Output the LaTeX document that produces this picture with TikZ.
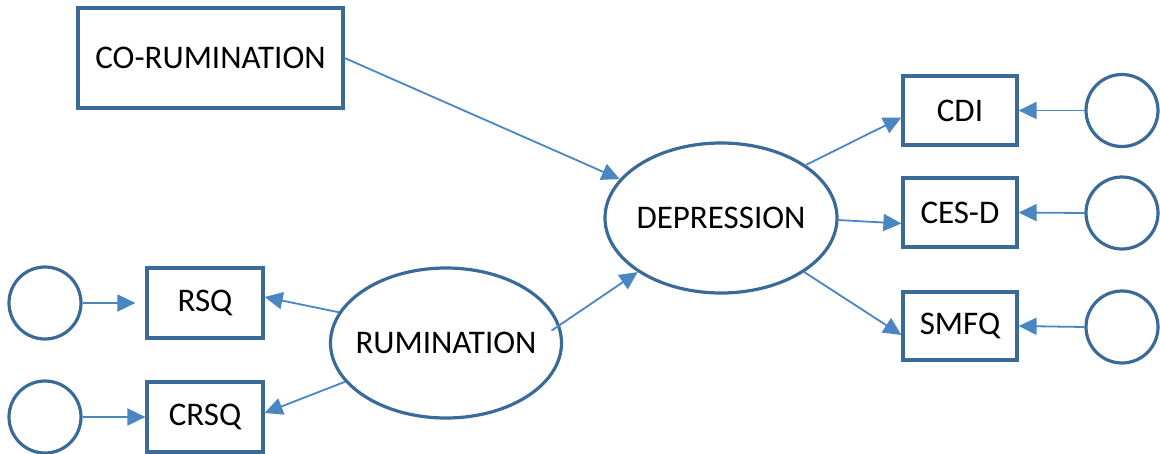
\documentclass[tikz,border=0pt]{standalone}
\usepackage{fontspec}
\setmainfont{Carlito}
\usetikzlibrary{arrows.meta,shapes.geometric}
\definecolor{edgeblue}{HTML}{3A6A98}
\definecolor{arrowblue}{HTML}{4A86C2}
\tikzset{
  boxst/.style={draw=edgeblue, line width=3.2pt, rectangle, inner sep=0pt,
    font=\fontsize{33}{40}\selectfont},
  latent/.style={draw=edgeblue, line width=3.2pt, ellipse, inner sep=0pt,
    font=\fontsize{33}{40}\selectfont},
  errc/.style={draw=edgeblue, line width=3.2pt, circle, inner sep=0pt,
    minimum size=72pt},
  path/.style={draw=arrowblue, line width=1.8pt,
    -{Triangle[length=18pt,width=17pt]}},
}
\begin{document}
\begin{tikzpicture}[x=1pt,y=-1pt]
\useasboundingbox (0,0) rectangle (1160,453);

% observed and latent variables (ellipse labels in zero-width boxes so the
% ellipses keep their set size)
\node[boxst, minimum width=265pt, minimum height=100pt] (corum) at (210.5,58) {CO-RUMINATION};
\node[latent, minimum width=232pt, minimum height=150pt] (dep) at (721,218) {\makebox[0pt]{DEPRESSION}};
\node[latent, minimum width=231pt, minimum height=150pt] (rum) at (446,343) {\makebox[0pt]{RUMINATION}};

\node[boxst, minimum width=116pt, minimum height=70pt] (rsq) at (205,303) {RSQ};
\node[boxst, minimum width=116pt, minimum height=70pt] (crsq) at (205,417) {CRSQ};

\node[boxst, minimum width=114pt, minimum height=69pt] (cdi) at (960,110.5) {CDI};
\node[boxst, minimum width=114pt, minimum height=69pt] (cesd) at (960,212.5) {CES-D};
\node[boxst, minimum width=114pt, minimum height=68pt] (smfq) at (960,326) {SMFQ};

% error terms
\node[errc] (e1) at (45,303) {};
\node[errc] (e2) at (45,417) {};
\node[errc] (e3) at (1122,110.5) {};
\node[errc] (e4) at (1122,213) {};
\node[errc] (e5) at (1122,327) {};

% structural paths
\draw[path] (corum.east) -- (dep.159);
\draw[path, shorten <=-10pt] (rum.9) -- (dep.213);

% measurement paths
\draw[path] (dep.32) -- ([yshift=-7pt]cdi.west);
\draw[path] (dep.-1) -- ([yshift=-11pt]cesd.west);
\draw[path] (dep.-33) -- ([yshift=-9pt]smfq.west);
\draw[path] (rum.164) -- ([yshift=6pt]rsq.east);
\draw[path] (rum.201) -- ([yshift=4pt]crsq.east);

% error paths
\draw[path, shorten >=10pt] (e1.east) -- (rsq.west);
\draw[path] (e2.east) -- (crsq.west);
\draw[path] (e3.west) -- (cdi.east);
\draw[path] (e4.west) -- (cesd.east);
\draw[path] (e5.west) -- (smfq.east);
\end{tikzpicture}
\end{document}
